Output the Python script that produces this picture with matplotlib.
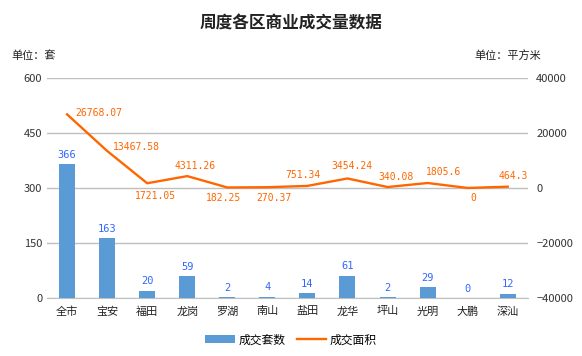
import matplotlib
matplotlib.use("Agg")
import matplotlib.pyplot as plt
import numpy as np

plt.rcParams['font.family'] = ['Noto Sans CJK SC', 'DejaVu Sans']

# chart data
districts = ["全市", "宝安", "福田", "龙岗", "罗湖", "南山", "盐田", "龙华", "坪山", "光明", "大鹏", "深汕"]
units_sold = [366, 163, 20, 59, 2, 4, 14, 61, 2, 29, 0, 12]
area_sold = [26768.07, 13467.58, 1721.05, 4311.26, 182.25, 270.37, 751.34, 3454.24, 340.08, 1805.6, 0, 464.3]
area_text = ["26768.07", "13467.58", "1721.05", "4311.26", "182.25", "270.37",
             "751.34", "3454.24", "340.08", "1805.6", "0", "464.3"]

# label offsets in pixels (dx, dy, ha)
area_offsets = [(8, 1, 'left'), (6, 4, 'left'), (8, -13, 'center'), (8, 10, 'center'),
                (-4, -11, 'center'), (7, -11, 'center'), (-4, 11, 'center'), (4, 12, 'center'),
                (8, 10, 'center'), (16, 11, 'center'), (6, -10, 'center'), (5, 11, 'center')]

bar_color = "#5b9bd5"
line_color = "#ff6600"
grid_color = "#bfbfbf"

fig = plt.figure(figsize=(5.82, 3.56), dpi=100)
ax = fig.add_axes([0.0808, 0.163, 0.826, 0.618])
ax2 = ax.twinx()

x = np.arange(len(districts))
bars = ax.bar(x, units_sold, width=0.4, color=bar_color, label="成交套数", zorder=3)
ax.set_ylim(0, 600)
ax.set_yticks([0, 150, 300, 450, 600])
ax.set_xlim(-0.5, len(districts) - 0.5)
ax.set_xticks(x)
ax.set_xticklabels(districts, fontsize=8.5)
ax.yaxis.grid(True, color=grid_color, linewidth=1)
ax.set_axisbelow(True)
for s in ["top", "left", "right"]:
    ax.spines[s].set_visible(False)
ax.spines["bottom"].set_color(grid_color)
ax.tick_params(axis="both", length=0, labelsize=8, colors="#333333")
ax.tick_params(axis="x", pad=6, colors="#222222")

for xi, v in zip(x, units_sold):
    ax.annotate(str(v), (xi, v), xytext=(0, 3), textcoords="offset points",
                ha="center", va="bottom", fontsize=7.5, color="#3366ff",
                family="DejaVu Sans Mono")

ax2.plot(x, area_sold, color=line_color, linewidth=1.7, label="成交面积", zorder=4)
ax2.set_ylim(-40000, 40000)
ax2.set_yticks([-40000, -20000, 0, 20000, 40000])
for s in ["top", "left", "right", "bottom"]:
    ax2.spines[s].set_visible(False)
ax2.tick_params(axis="y", length=0, labelsize=8, colors="#333333", pad=6)

for xi, v, t, (dx, dy, ha) in zip(x, area_sold, area_text, area_offsets):
    ax2.annotate(t, (xi, v), xytext=(dx, dy), textcoords="offset pixels",
                 ha=ha, va="center", fontsize=7, color=line_color,
                 family="DejaVu Sans Mono")

fig.text(0.5, 0.935, "周度各区商业成交量数据", ha="center", va="center",
         fontsize=12, fontweight="bold", color="#222222")
fig.text(0.02, 0.845, "单位：套", ha="left", va="center", fontsize=8, color="#222222")
fig.text(0.93, 0.845, "单位：平方米", ha="right", va="center", fontsize=8, color="#222222")

h1, l1 = ax.get_legend_handles_labels()
h2, l2 = ax2.get_legend_handles_labels()
fig.legend(h1 + h2, l1 + l2, loc="center", bbox_to_anchor=(0.5, 0.045), ncol=2,
           frameon=False, fontsize=8.5, handlelength=2.5, columnspacing=1.0,
           handletextpad=0.3)

fig.savefig("out.png", dpi=100)
